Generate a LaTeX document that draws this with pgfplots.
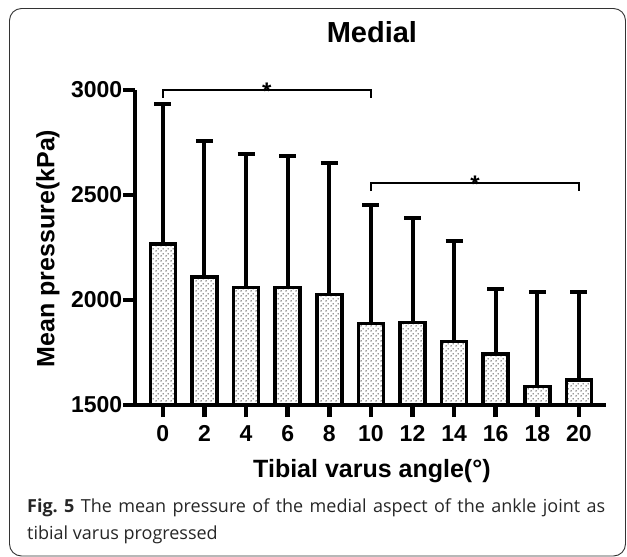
\documentclass[border=0pt]{standalone}
\usepackage{fontspec}
\setmainfont{Liberation Sans}
\newfontfamily\capfont{Open Sans}
\usepackage{pgfplots}
\pgfplotsset{compat=1.18}
\usetikzlibrary{patterns}
\pgfdeclarepatternformonly{mydots}{\pgfpointorigin}{\pgfpoint{5pt}{5pt}}{\pgfpoint{5pt}{5pt}}{%
  \pgfpathcircle{\pgfpoint{1.25pt}{1.25pt}}{0.85pt}%
  \pgfpathcircle{\pgfpoint{3.75pt}{3.75pt}}{0.85pt}%
  \pgfusepath{fill}}

\pgfplotstableread{
x y e
0 2267 666
1 2110 647
2 2060 634
3 2060 626
4 2027 627
5 1889 563
6 1894 495
7 1802 481
8 1743 308
9 1587 450
10 1619 418
}\medial

\begin{document}
\frenchspacing
\begin{tikzpicture}[x=1pt,y=1pt]
\path[use as bounding box] (0,0) rectangle (627,-557);
\draw[black!80, line width=0.9pt, rounded corners=12pt] (9.5,-8.5) rectangle (625.5,-556);
\begin{axis}[
  at={(135pt,-405pt)}, anchor=south west,
  scale only axis, width=471pt, height=315pt,
  xmin=-0.67, xmax=10.65, ymin=1500, ymax=3000,
  axis x line*=bottom, axis y line*=left,
  axis line style={line width=4.5pt, black},
  ytick={1500,2000,2500,3000},
  xtick={0,...,10}, xticklabels={0,2,4,6,8,10,12,14,16,18,20},
  xtick pos=bottom, ytick pos=left,
  tick align=outside, major tick length=12pt,
  tick style={line width=4.5pt, black},
  /pgf/number format/assume math mode=true,
  /pgf/number format/set thousands separator={},
  ticklabel style={font=\bfseries\fontsize{23}{23}\selectfont, inner sep=0pt},
  xticklabel style={yshift=-8pt},
  yticklabel style={xshift=-0.5pt},
  clip mode=individual,
  ybar, bar width=25pt,
  title={Medial},
  title style={at={(axis description cs:0.503,1.133)}, anchor=base, inner sep=0pt, font=\bfseries\fontsize{29}{29}\selectfont},
  xlabel={Tibial varus angle(°)},
  xlabel style={at={(axis description cs:0.503,-0.229)}, anchor=base, inner sep=0pt, font=\bfseries\fontsize{25}{25}\selectfont},
  ylabel={Mean pressure(kPa)},
  ylabel style={at={(axis description cs:-0.185,0.497)}, anchor=center, inner sep=0pt, font=\bfseries\fontsize{25}{25}\selectfont},
]
\addplot[draw=black, line width=3.5pt, pattern=mydots, pattern color=black!80,
  error bars/.cd, y dir=plus, y explicit,
  error bar style={line width=4pt, black, solid},
  error mark options={line width=4pt, mark size=8.5pt, black, rotate=90}]
  table[x=x, y=y, y error=e] {\medial};
\draw[line width=1.8pt] (axis cs:0,2962) -- (axis cs:0,3000) -- (axis cs:5,3000) -- (axis cs:5,2962);
\node[anchor=base, inner sep=0pt, font=\bfseries\fontsize{24}{24}\selectfont] at ([yshift=-9pt]axis cs:2.5,3000) {*};
\draw[line width=1.8pt] (axis cs:5,2519) -- (axis cs:5,2557) -- (axis cs:10,2557) -- (axis cs:10,2519);
\node[anchor=base, inner sep=0pt, font=\bfseries\fontsize{24}{24}\selectfont] at ([yshift=-9pt]axis cs:7.5,2557) {*};
\end{axis}
\node[anchor=base west, inner sep=0pt, text=black!85] at (27,-512) {\capfont\fontsize{18}{18}\selectfont\makebox[578pt][s]{\textbf{Fig. 5} The mean pressure of the medial aspect of the ankle joint as}};
\node[anchor=base west, inner sep=0pt, text=black!85] at (27,-539) {\capfont\fontsize{18}{18}\selectfont tibial varus progressed};
\end{tikzpicture}
\end{document}
